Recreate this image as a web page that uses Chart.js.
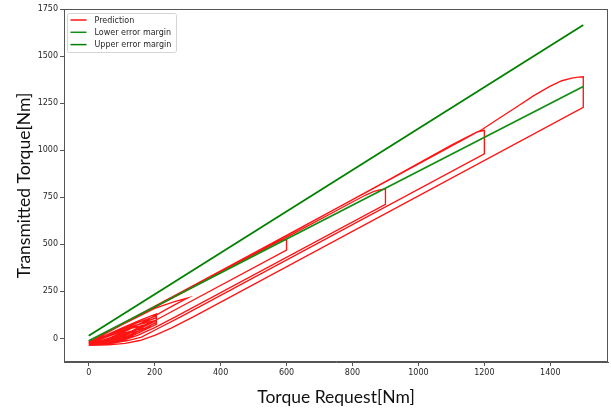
<!DOCTYPE html>
<html>
<head>
<meta charset="utf-8">
<script src="https://cdn.jsdelivr.net/npm/chart.js@4"></script>
<style>
  html, body { margin: 0; padding: 0; background: #fff; }
  #wrap { width: 611px; height: 411px; position: relative; }
</style>
</head>
<body>
<div id="wrap"><canvas id="c" width="611" height="411"></canvas></div>
<script>
// ---- axis ticks / limits ----
const X_TICKS = [0, 200, 400, 600, 800, 1000, 1200, 1400];
const Y_TICKS = [0, 250, 500, 750, 1000, 1250, 1500, 1750];
const X_LIMITS = [-75, 1575];
const Y_LIMITS = [-125, 1750];

// ---- series labels ----
const SERIES_LABELS = ['Prediction', 'Lower error margin', 'Upper error margin'];

// ---- error margins [torque request, transmitted torque] ----
const LOWER_MARGIN = [[0, -12], [1500, 1338]];
const UPPER_MARGIN = [[0, 15], [1500, 1665]];

// ---- prediction hysteresis loops (lower branch -> turn -> upper branch) ----
const LOOP_S1 = [[0,-37],[60,-25],[120,5],[170,45],[205,75],[205,130],[160,100],[100,55],[50,15],[0,-15]];
const LOOP_S2 = [[0,-35],[60,-18],[120,15],[170,55],[205,85],[205,120],[150,85],[100,48],[50,10],[0,-20]];
const LOOP_S3 = [[0,-33],[60,-12],[120,25],[170,65],[205,95],[205,110],[150,75],[100,40],[50,5],[0,-25]];
const LOOP_S4 = [[0,-37],[50,-28],[100,-6],[150,28],[185,60],[150,48],[100,25],[50,-5],[0,-28]];
const LOOP_S5 = [[0,-37],[40,-30],[80,-12],[120,12],[150,38],[110,24],[60,0],[0,-30]];
const LOOP_S6 = [[0,-36],[40,-26],[80,-4],[120,28],[160,68],[120,50],[70,18],[0,-20]];
const LOOP_S7 = [[0,-37],[30,-32],[60,-20],[90,-2],[110,15],[80,5],[40,-15],[0,-30]];
const LOOP_S8 = [[0,-34],[50,-16],[100,12],[150,50],[190,90],[140,70],[80,30],[0,-18]];
const LOOP_300 = [[0,-34],[60,0],[120,45],[200,120],[260,178],[300,215],[260,196],[200,160],[100,72],[0,-22]];
const LOOP_600 = [[0,-30],[30,-23],[61,-11],[100,12],[150,48],[200,94],[600,470],[600,525],[588,523],[572,517],[550,500],[500,452],[300,262],[150,120],[60,36],[0,-22]];
const LOOP_900 = [[0,-34],[50,-28],[102,-11],[150,18],[200,58],[260,112],[900,713],[900,793],[885,790],[865,781],[840,762],[800,725],[600,537],[300,258],[150,118],[60,35],[0,-22]];
const LOOP_1200 = [[0,-35],[60,-29],[118,-11],[160,7],[210,53],[280,116],[1200,980],[1200,1106],[1180,1098],[1150,1072],[1100,1027],[900,833],[600,546],[300,263],[150,122],[60,37],[0,-20]];
const LOOP_1500 = [[0,-36],[60,-34],[110,-26],[155,-11],[200,16],[250,55],[320,117],[1500,1227],[1500,1390],[1485,1388],[1465,1383],[1435,1369],[1400,1340],[1350,1290],[1300,1232],[1238,1162],[1193,1110],[900,832],[600,548],[300,265],[150,124],[60,38],[0,-20]];
const PREDICTION_LOOPS = [LOOP_S1, LOOP_S2, LOOP_S3, LOOP_S4, LOOP_S5, LOOP_S6, LOOP_S7, LOOP_S8,
  LOOP_300, LOOP_600, LOOP_900, LOOP_1200, LOOP_1500];

const toPts = arr => arr.map(([x, y]) => ({x, y}));
const predictionData = [];
PREDICTION_LOOPS.forEach(loop => {
  toPts(loop).forEach(p => predictionData.push(p));
  predictionData.push({x: null, y: null});
});

const AXIS_COLOR = '#555';
const TICK_COLOR = '#262626';

const framePlugin = {
  id: 'frame',
  afterDatasetsDraw(chart) {
    const {ctx, chartArea: a} = chart;
    ctx.save();
    ctx.strokeStyle = AXIS_COLOR;
    ctx.lineWidth = 1;
    ctx.strokeRect(Math.round(a.left) + 0.5, Math.round(a.top) + 0.5,
                   Math.round(a.right - a.left) - 1, Math.round(a.bottom - a.top) - 1);
    ctx.restore();
  }
};

const legendPlugin = {
  id: 'innerLegend',
  afterDraw(chart) {
    const {ctx, chartArea: a} = chart;
    const x0 = a.left + 3.5, y0 = a.top + 4.5, w = 109, h = 39;
    ctx.save();
    ctx.fillStyle = 'rgba(255,255,255,0.85)';
    ctx.strokeStyle = '#d4d4d4';
    ctx.lineWidth = 1;
    ctx.beginPath();
    if (ctx.roundRect) ctx.roundRect(x0, y0, w, h, 2); else ctx.rect(x0, y0, w, h);
    ctx.fill(); ctx.stroke();
    ctx.font = '8px "DejaVu Sans"';
    ctx.textBaseline = 'middle';
    chart.data.datasets.forEach((ds, i) => {
      const y = y0 + 6.5 + i * 12.3;
      ctx.strokeStyle = ds.borderColor;
      ctx.lineWidth = 1.5;
      ctx.beginPath();
      ctx.moveTo(x0 + 3, y); ctx.lineTo(x0 + 19, y);
      ctx.stroke();
      ctx.fillStyle = TICK_COLOR;
      ctx.fillText(ds.label, x0 + 27, y + 0.5);
    });
    ctx.restore();
  }
};

new Chart(document.getElementById('c'), {
  type: 'scatter',
  data: {
    datasets: [
      { label: SERIES_LABELS[0], data: predictionData, showLine: true, spanGaps: false,
        borderColor: 'rgba(255,0,0,0.92)', borderWidth: 1.35, pointRadius: 0, tension: 0, order: 2 },
      { label: SERIES_LABELS[1], data: toPts(LOWER_MARGIN), showLine: true,
        borderColor: '#138d13', borderWidth: 1.8, pointRadius: 0, order: 1 },
      { label: SERIES_LABELS[2], data: toPts(UPPER_MARGIN), showLine: true,
        borderColor: '#008000', borderWidth: 1.8, pointRadius: 0, order: 0 }
    ]
  },
  options: {
    responsive: false,
    animation: false,
    events: [],
    layout: { padding: { left: 0, top: 9, right: 3, bottom: 0 } },
    plugins: { legend: { display: false }, tooltip: { enabled: false }, title: { display: false } },
    scales: {
      x: {
        type: 'linear', min: X_LIMITS[0], max: X_LIMITS[1],
        afterBuildTicks: s => { s.ticks = X_TICKS.map(v => ({value: v})); },
        afterFit: s => { s.height = 49; },
        grid: { drawOnChartArea: false, drawTicks: true, tickLength: 4, color: AXIS_COLOR },
        border: { display: true, color: AXIS_COLOR, width: 1 },
        ticks: { color: TICK_COLOR, font: { family: 'DejaVu Sans', size: 8 }, padding: 2, maxRotation: 0,
                 callback: v => String(v) },
        title: { display: true, text: 'Torque Request[Nm]', color: '#111',
                 font: { family: 'Lato', size: 17.5 }, padding: { top: 0, bottom: 3 } }
      },
      y: {
        type: 'linear', min: Y_LIMITS[0], max: Y_LIMITS[1],
        afterBuildTicks: s => { s.ticks = Y_TICKS.map(v => ({value: v})); },
        afterFit: s => { s.width = 64; },
        grid: { drawOnChartArea: false, drawTicks: true, tickLength: 4, color: AXIS_COLOR },
        border: { display: true, color: AXIS_COLOR, width: 1 },
        ticks: { color: TICK_COLOR, font: { family: 'DejaVu Sans', size: 8 }, padding: 2,
                 callback: v => String(v) },
        title: { display: true, text: 'Transmitted Torque[Nm]', color: '#111',
                 font: { family: 'Lato', size: 17.5 }, padding: { top: 14, bottom: 0 } }
      }
    }
  },
  plugins: [framePlugin, legendPlugin]
});
</script>
</body>
</html>
